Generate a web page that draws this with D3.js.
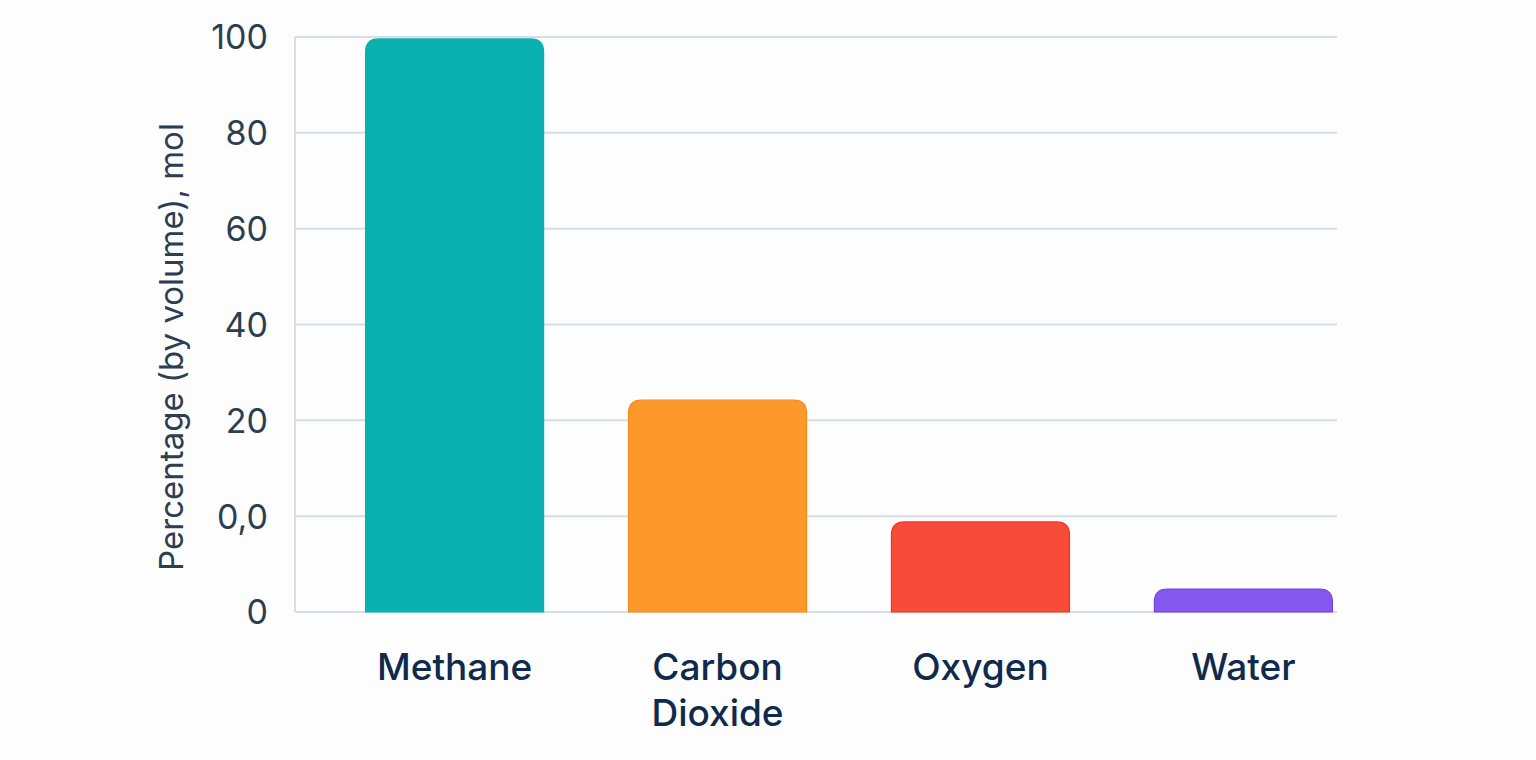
<!DOCTYPE html>
<html><head><meta charset="utf-8">
<script src="https://cdn.jsdelivr.net/npm/d3@7"></script>
<style>html,body{margin:0;padding:0;background:#fdfdfd;}svg{display:block;}</style>
</head><body><svg id="c" width="1536" height="760"></svg>
<script>
const categories = ["Methane", "Carbon Dioxide", "Oxygen", "Water"];
const values = [119.6, 44.2, 18.8, 4.8];
const colors = ["#0ab1b0", "#fd982b", "#f94b39", "#8458ee"];
const strokes = ["#0aaead", "#f88a1c", "#ee3524", "#7043e6"];
const tickValues = [0, 20, 40, 60, 80, 100, 120];
const tickLabels = ["0", "0,0", "20", "40", "60", "80", "100"];
const yTitle = "Percentage (by volume), mol";

const svg = d3.select("#c");
const pLeft = 295, pRight = 1337, pTop = 37, pBottom = 612;
const y = d3.scaleLinear().domain([0, 120]).range([pBottom, pTop]);
const x = d3.scaleBand().domain(categories).range([313, 1385]).paddingInner(0.323).paddingOuter(0.2);

// gridlines
svg.append("g").selectAll("line").data(tickValues).join("line")
  .attr("x1", pLeft).attr("x2", pRight)
  .attr("y1", d => y(d)).attr("y2", d => y(d))
  .attr("stroke", "#d8dee1").attr("stroke-width", 2);
// left axis line
svg.append("line").attr("x1", pLeft).attr("x2", pLeft).attr("y1", y(120)).attr("y2", y(0))
  .attr("stroke", "#d8dee1").attr("stroke-width", 2);

// y axis labels
const yAxis = d3.axisLeft(y).tickValues(tickValues).tickSize(0).tickPadding(0)
  .tickFormat((d, i) => tickLabels[i]);
const ya = svg.append("g").attr("transform", `translate(268,0)`).call(yAxis);
ya.select(".domain").remove();
ya.selectAll("text").attr("font-family", "Inter, 'Open Sans', sans-serif")
  .attr("font-size", 34).attr("fill", "#2c3e52").attr("dy", "0.35em");

// bars with rounded top corners
function barPath(x0, w, yTop, yBot, r) {
  r = Math.min(r, w / 2, (yBot - yTop));
  return `M${x0},${yBot} L${x0},${yTop + r} Q${x0},${yTop} ${x0 + r},${yTop} L${x0 + w - r},${yTop} Q${x0 + w},${yTop} ${x0 + w},${yTop + r} L${x0 + w},${yBot} Z`;
}
svg.append("g").selectAll("path").data(categories).join("path")
  .attr("d", (d, i) => barPath(x(d), x.bandwidth(), y(values[i]), y(0), 13))
  .attr("fill", (d, i) => colors[i])
  .attr("stroke", (d, i) => strokes[i]).attr("stroke-width", 1.2);

// x labels
const xl = svg.append("g");
categories.forEach((c, i) => {
  const words = c.split(" ");
  const t = xl.append("text").attr("x", x(c) + x.bandwidth() / 2).attr("y", 680)
    .attr("text-anchor", "middle").attr("font-family", "Inter, 'Open Sans', sans-serif")
    .attr("font-size", 37).attr("font-weight", 500).attr("fill", "#0f2a4b");
  words.forEach((w, j) => t.append("tspan").attr("x", x(c) + x.bandwidth() / 2).attr("dy", j === 0 ? 0 : 46).text(w));
});

// y title
svg.append("text").attr("transform", `translate(183,347) rotate(-90)`)
  .attr("text-anchor", "middle").attr("font-family", "Inter, 'Open Sans', sans-serif")
  .attr("font-size", 33).attr("fill", "#2c3e52").text(yTitle);
</script></body></html>
